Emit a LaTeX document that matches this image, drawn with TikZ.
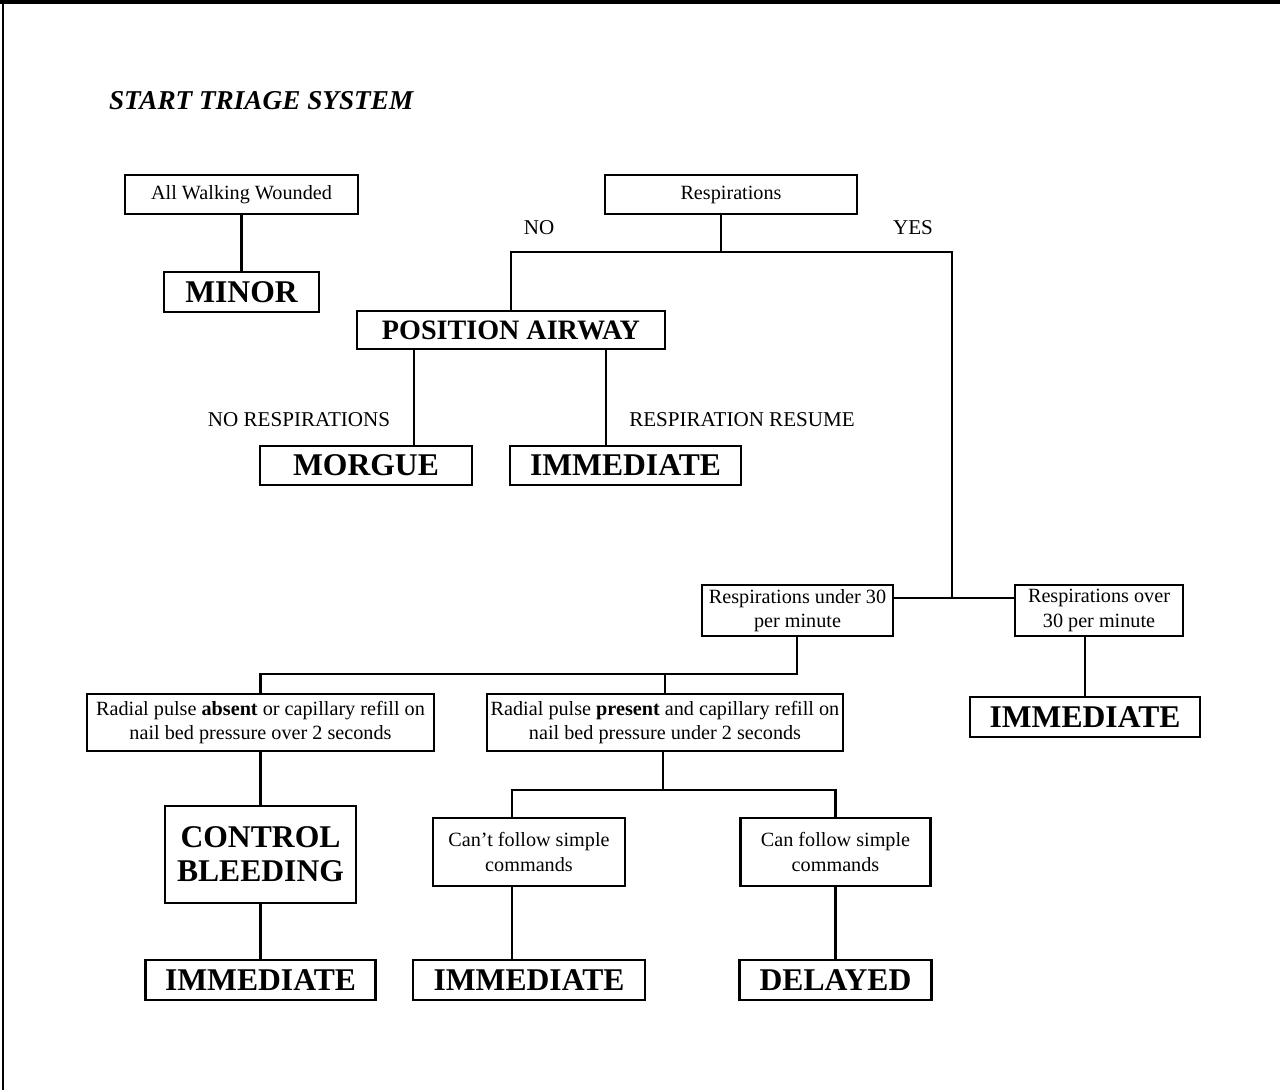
\documentclass[tikz,border=0pt]{standalone}
\usepackage{fontspec}
\setmainfont{Liberation Serif}
\usetikzlibrary{positioning}

\begin{document}
\begin{tikzpicture}[
  x=0.02cm, y=-0.02cm,
  line width=1.2pt,
  box/.style={draw, line width=1.4pt, align=center, inner sep=2pt,
              font=\fontsize{11.5}{13.8}\selectfont, minimum width=#1},
  cat/.style={draw, line width=1.5pt, align=center, inner sep=2pt,
              font=\fontsize{18}{19.5}\selectfont\bfseries,
              minimum width=#1, minimum height=0.8cm},
  lbl/.style={font=\fontsize{12}{14}\selectfont},
  htitle/.style={font=\fontsize{15.5}{18}\selectfont\bfseries\itshape},
]
\useasboundingbox (0,0) rectangle (1280,1090);

%% ===== FRAME & TITLE =====

\draw[line width=2pt] (0,2) -- (1280,2);
\draw (3,0) -- (3,1090);

\node[htitle, anchor=west, inner sep=0pt] (title) at (108,101)
    {START TRIAGE SYSTEM};

%% ===== TOP: WALKING & RESPIRATIONS =====

\node[box=4.66cm, minimum height=0.78cm] (walk) at (241.5,194.5)
    {All Walking Wounded};

\node[cat=3.1cm] (minor) at (241.5,292) {MINOR};

\node[box=5.04cm, minimum height=0.78cm] (resp) at (731,194.5)
    {Respirations};

\node[lbl] (no)  at (539,228) {NO};
\node[lbl] (yes) at (913,228) {YES};

\node[cat=6.16cm, minimum height=0.76cm,
      font=\fontsize{16}{18}\selectfont\bfseries] (posair) at (511,330)
    {POSITION AIRWAY};

\node[lbl] (norsp) at (299,420) {NO RESPIRATIONS};
\node[lbl] (rsume) at (742,420) {RESPIRATION RESUME};

\node[cat=4.24cm, minimum height=0.78cm] (morgue) at (366,465.5) {MORGUE};
\node[cat=4.62cm, minimum height=0.78cm] (immA) at (625.5,465.5) {IMMEDIATE};

%% ===== MIDDLE: RESPIRATION RATE =====

\node[box=3.82cm, minimum height=1.02cm] (under) at (797.5,610.5)
    {Respirations under 30\\per minute};

\node[box=3.36cm, minimum height=1.02cm] (over) at (1099,610.5)
    {Respirations over\\30 per minute};

\node[cat=4.6cm] (immB) at (1085,717) {IMMEDIATE};

\node[box=6.94cm, minimum height=1.14cm] (absent) at (260.5,722.5)
    {Radial pulse \textbf{absent} or capillary refill on\\nail bed pressure over 2 seconds};

\node[box=6.96cm, minimum height=1.14cm] (present) at (665,722.5)
    {Radial pulse \textbf{present} and capillary refill on\\nail bed pressure under 2 seconds};

%% ===== BOTTOM: PERFUSION & MENTAL STATUS =====

\node[cat=3.82cm, minimum height=1.94cm] (ctrl) at (260.5,854.5)
    {CONTROL\\BLEEDING};

\node[box=3.84cm, minimum height=1.36cm] (cant) at (529,852)
    {Can’t follow simple\\commands};

\node[box=3.8cm, minimum height=1.36cm] (can) at (835.5,852)
    {Can follow simple\\commands};

\node[cat=4.6cm]  (immC)    at (260.5,980) {IMMEDIATE};
\node[cat=4.64cm] (immD)    at (529,980) {IMMEDIATE};
\node[cat=3.84cm] (delayed) at (835.5,980) {DELAYED};

%% ===== CONNECTORS =====

\coordinate (rsplit) at (721,252);
\coordinate (yesbus) at (952,598);
\coordinate (xa)     at (414,0);
\coordinate (xb)     at (606,0);
\coordinate (usplit) at (797,674);
\coordinate (psplit) at (663,790);
\coordinate (xc)     at (512,0);

\draw (walk) -- (minor);

\draw (resp.south -| rsplit) -- (rsplit);
\draw (rsplit) -| (posair.north);
\draw (rsplit) -| (yesbus);
\draw (under.east |- yesbus) -- (over.west |- yesbus);

\draw (posair.south -| xa) -- (morgue.north -| xa);
\draw (posair.south -| xb) -- (immA.north -| xb);

\draw (over.south -| immB.north) -- (immB.north);

\draw (under.south -| usplit) -- (usplit) -| (absent.north);
\draw (present.north) -- (present.north |- usplit);

\draw (absent) -- (ctrl);
\draw (ctrl)   -- (immC);

\draw (present.south -| psplit) -- (psplit);
\draw (psplit) -| (cant.north -| xc);
\draw (psplit) -| (can.north);
\draw (cant.south -| xc) -- (immD.north -| xc);
\draw (can) -- (delayed);

\end{tikzpicture}
\end{document}
